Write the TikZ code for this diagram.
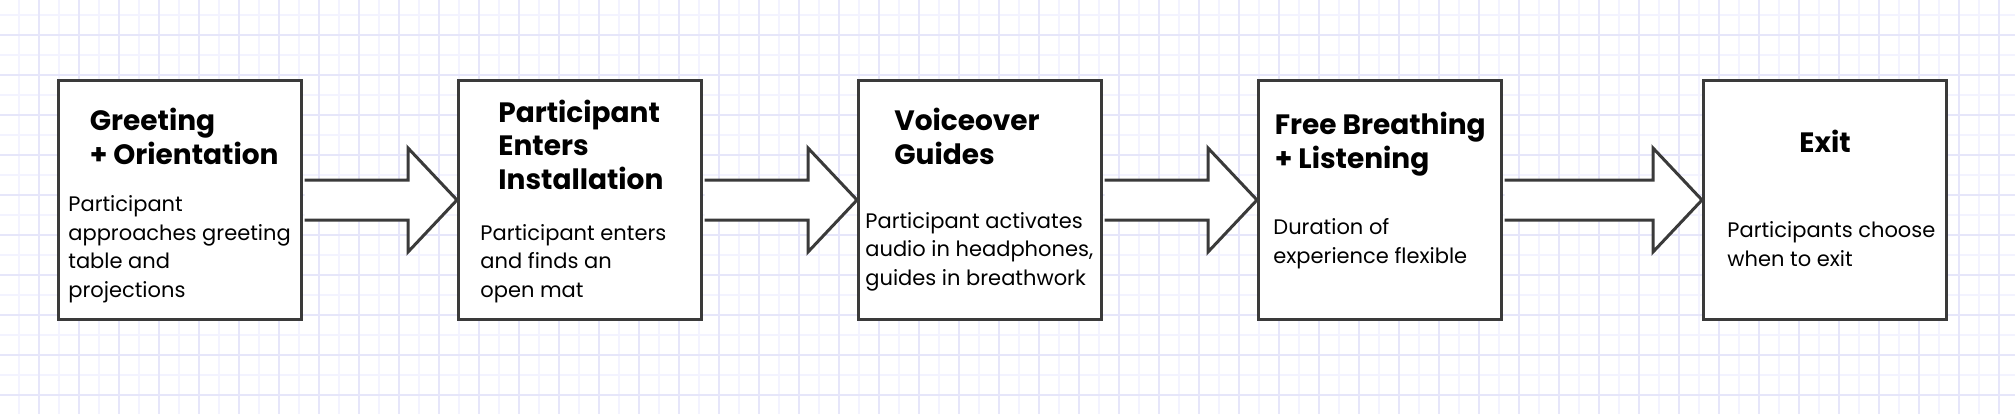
\documentclass[tikz,border=0pt]{standalone}
\usepackage{fontspec}
\setmainfont{Poppins}
\usetikzlibrary{calc}

\definecolor{gridminor}{HTML}{F3F3FF}
\definecolor{gridmajor}{HTML}{E6E6FA}
\definecolor{edgegray}{HTML}{3A3A3A}

\begin{document}
\begin{tikzpicture}[x=0.5pt,y=-0.5pt]
    \tikzstyle{stage}=[draw=edgegray,line width=1.5pt,fill=white,minimum width=121.5pt,minimum height=119.5pt,inner sep=0pt]
    \tikzstyle{title}=[font=\bfseries\fontsize{14}{16.6}\selectfont,align=left,anchor=base west,inner sep=0pt]
    \tikzstyle{body}=[font=\fontsize{10.5}{14.25}\selectfont,align=left,anchor=base west,inner sep=0pt]
    \tikzstyle{fatarrow}=[draw=edgegray,line width=1.5pt,fill=white,line join=miter]

    % Background grid
    \useasboundingbox (0,0) rectangle (2015,414);
    \fill[white] (0,0) rectangle (2015,414);
    \foreach \x in {19,59,...,2015} \draw[gridminor,line width=1pt] (\x,0) -- (\x,414);
    \foreach \y in {15,55,...,414} \draw[gridminor,line width=1pt] (0,\y) -- (2015,\y);
    \foreach \x in {39,79,...,2015} \draw[gridmajor,line width=1pt] (\x,0) -- (\x,414);
    \foreach \y in {35,75,...,414} \draw[gridmajor,line width=1pt] (0,\y) -- (2015,\y);

    % Draw the stage boxes
    \foreach \name / \x in {1/180,2/580,3/980,4/1380,5/1825}
        \node[stage] (S-\name) at (\x,200) {};

    % Connect the stages with block arrows
    \foreach \a / \b in {1/2,2/3,3/4,4/5}
        \draw[fatarrow] ([xshift=0.75pt,yshift=10pt]S-\a.east)
            -- ([xshift=-24.5pt,yshift=10pt]S-\b.west)
            -- ([xshift=-24.5pt,yshift=26pt]S-\b.west)
            -- (S-\b.west)
            -- ([xshift=-24.5pt,yshift=-26pt]S-\b.west)
            -- ([xshift=-24.5pt,yshift=-10pt]S-\b.west)
            -- ([xshift=0.75pt,yshift=-10pt]S-\a.east);

    % Titles (placed at the baseline of their last line)
    \node[title] (T-1) at (89.5,164) {Greeting\\+ Orientation};
    \node[title] (T-2) at (498,189) {Participant\\Enters\\Installation};
    \node[title] (T-3) at (894,164) {Voiceover\\Guides};
    \node[title] (T-4) at (1274.5,168) {Free Breathing\\+ Listening};
    \node[title,anchor=base] (T-5) at (1825,152) {Exit};

    % Descriptions
    \node[body] (D-1) at (68,297) {Participant\\approaches greeting\\table and\\projections};
    \node[body] (D-2) at (480,297) {Participant enters\\and finds an\\open mat};
    \node[body] (D-3) at (865,285) {Participant activates\\audio in headphones,\\guides in breathwork};
    \node[body] (D-4) at (1273,263) {Duration of\\experience flexible};
    \node[body] (D-5) at (1727,266) {Participants choose\\when to exit};
\end{tikzpicture}
\end{document}
